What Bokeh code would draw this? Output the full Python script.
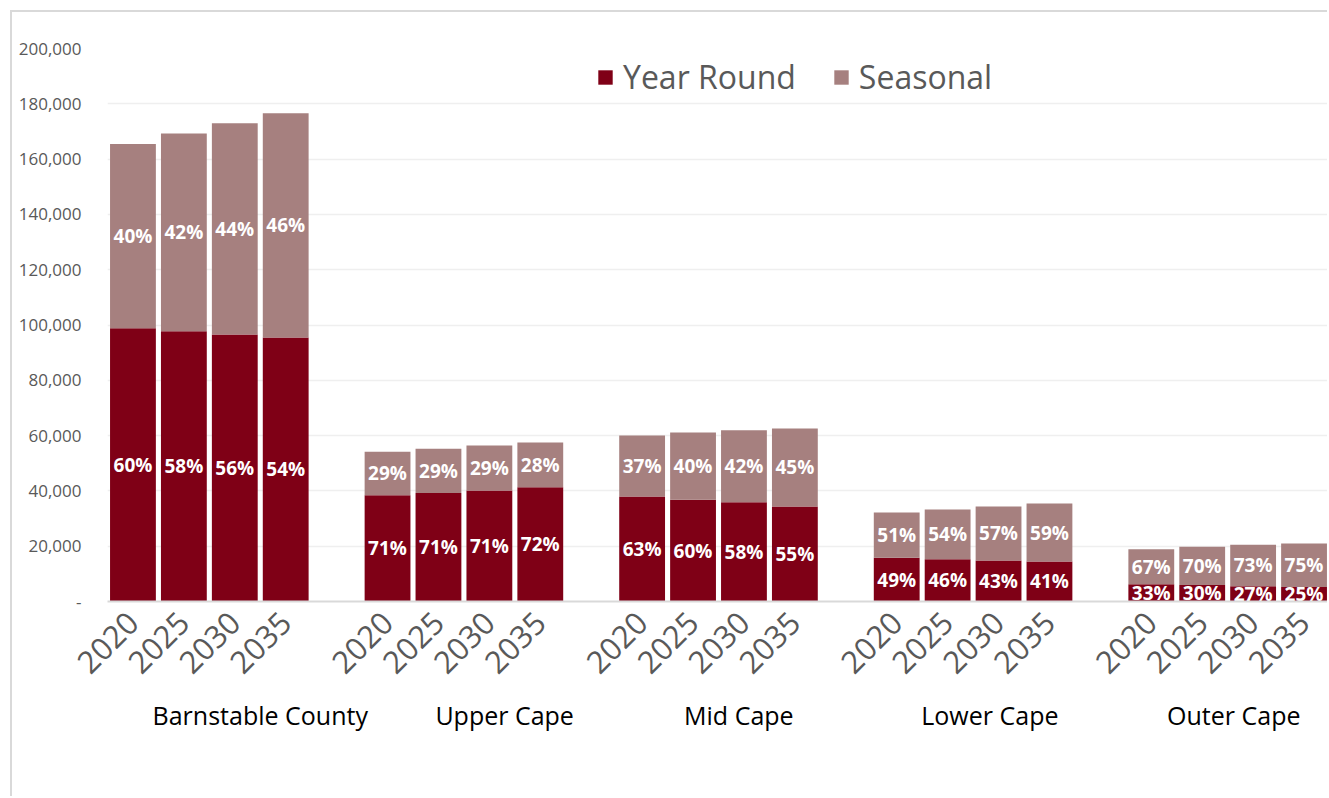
from math import pi

from bokeh.core.properties import value
from bokeh.embed import file_html
from bokeh.models import (ColumnDataSource, FixedTicker, Legend, LegendItem,
                          LinearAxis, NumeralTickFormatter, Range1d)
from bokeh.plotting import figure
from bokeh.resources import INLINE

# ---- data -------------------------------------------------------------
regions = ["Barnstable County", "Upper Cape", "Mid Cape", "Lower Cape", "Outer Cape"]
years = ["2020", "2025", "2030", "2035"]

# housing units, region by region, years in order
year_round = [98800, 97700, 96600, 95500,
              38400, 39200, 40100, 41300,
              38000, 36800, 35900, 34400,
              15800, 15300, 14800, 14500,
              6250, 5950, 5550, 5250]
seasonal = [66700, 71600, 76400, 81100,
            15800, 16000, 16300, 16200,
            22000, 24300, 26000, 28200,
            16400, 18000, 19600, 20900,
            12650, 13850, 14950, 15750]

y_ticks = list(range(0, 200001, 20000))

# ---- styling ----------------------------------------------------------
FONT = "Open Sans"
GRAY = "#595959"
YR_COLOR = "#7f0016"
SE_COLOR = "#a6807f"
EDGE = 12  # margin + border of the chart box

n_years = len(years)
slot = n_years + 1  # one empty slot between regions

x = [g * slot + j + 0.5 for g in range(len(regions)) for j in range(n_years)]
total = [a + b for a, b in zip(year_round, seasonal)]
src = ColumnDataSource(dict(
    x=x,
    yr=year_round,
    top=total,
    yr_mid=[v / 2 for v in year_round],
    se_mid=[a + b / 2 for a, b in zip(year_round, seasonal)],
    yr_lbl=[f"{round(100 * a / t)}%" for a, t in zip(year_round, total)],
    se_lbl=[f"{round(100 * b / t)}%" for b, t in zip(seasonal, total)],
))

p = figure(width=1329 - EDGE, height=798 - EDGE, output_backend="svg",
           toolbar_location=None,
           x_range=Range1d(0, len(regions) * slot - 1), y_range=Range1d(0, 200000),
           min_border_left=107 - EDGE, min_border_right=0,
           min_border_top=48 - EDGE, min_border_bottom=197)
p.margin = (10, 0, 0, 10)
p.styles = {"border-top": "2px solid #d9d9d9", "border-left": "2px solid #d9d9d9"}
p.outline_line_color = None

r_yr = p.vbar(x="x", width=0.9, bottom=0, top="yr", source=src,
              fill_color=YR_COLOR, line_color=None)
r_se = p.vbar(x="x", width=0.9, bottom="yr", top="top", source=src,
              fill_color=SE_COLOR, line_color=None)

lbl_style = dict(source=src, text_align="center", text_baseline="middle",
                 text_color="white", text_font=value(FONT),
                 text_font_style="bold", text_font_size="19px")
p.text(x="x", y="yr_mid", text="yr_lbl", **lbl_style)
p.text(x="x", y="se_mid", text="se_lbl", **lbl_style)

# axes
p.yaxis.ticker = FixedTicker(ticks=y_ticks)
p.yaxis.formatter = NumeralTickFormatter(format="0,0")
p.yaxis.major_label_overrides = {0: "-"}
p.yaxis.axis_line_color = None
p.yaxis.major_tick_line_color = None
p.yaxis.minor_tick_line_color = None
p.yaxis.major_label_text_font = FONT
p.yaxis.major_label_text_font_size = "17px"
p.yaxis.major_label_text_color = GRAY
p.yaxis.major_label_standoff = 20

p.xaxis.ticker = FixedTicker(ticks=x)
p.xaxis.major_label_overrides = {xv: years[i % n_years] for i, xv in enumerate(x)}
p.xaxis.major_label_orientation = pi / 4
p.xaxis.axis_line_color = "#d9d9d9"
p.xaxis.axis_line_width = 2
p.xaxis.major_tick_line_color = None
p.xaxis.minor_tick_line_color = None
p.xaxis.major_label_text_font = FONT
p.xaxis.major_label_text_font_size = "31px"
p.xaxis.major_label_text_color = GRAY
p.xaxis.major_label_standoff = 10

# region names under the year labels (second axis, small per-name nudges)
name_dx = [1.0, 0.8, 0.4, 0.33, 0.12]
name_x = [g * slot + n_years / 2 + name_dx[g] for g in range(len(regions))]
names = LinearAxis(ticker=FixedTicker(ticks=name_x),
                   major_label_overrides=dict(zip(name_x, regions)),
                   axis_line_color=None, major_tick_line_color=None,
                   minor_tick_line_color=None, major_label_standoff=5,
                   major_label_text_font=FONT, major_label_text_font_size="25px",
                   major_label_text_color="black")
p.add_layout(names, "below")

p.xgrid.grid_line_color = None
p.ygrid.grid_line_color = "#efefef"
p.ygrid.grid_line_width = 1.5

legend = Legend(items=[LegendItem(label="Year Round", renderers=[r_yr]),
                       LegendItem(label="Seasonal", renderers=[r_se])],
                orientation="horizontal", location=(489, 503),
                label_text_font=FONT, label_text_font_size="32px",
                label_text_color=GRAY, glyph_width=18, glyph_height=18,
                label_standoff=9, spacing=36, padding=0, margin=0,
                border_line_color=None, background_fill_alpha=0)
p.add_layout(legend)

open("out.html", "w").write(file_html(p, INLINE))
